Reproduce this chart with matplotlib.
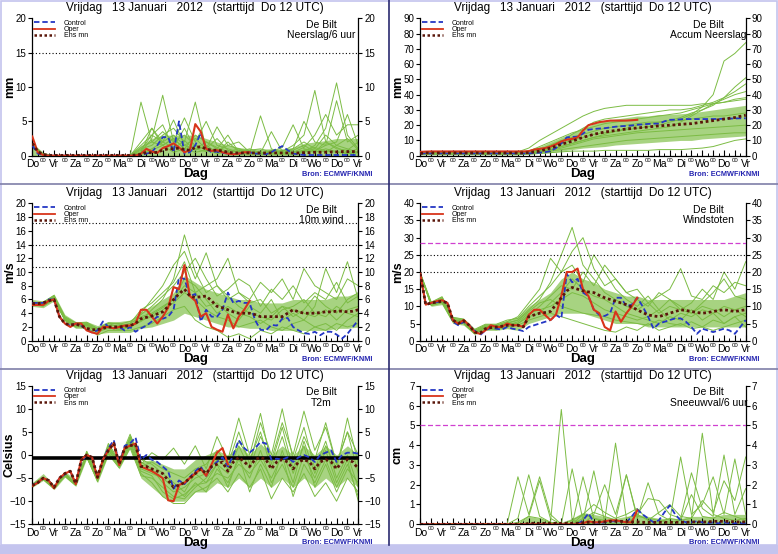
import numpy as np
import matplotlib
matplotlib.use('Agg')
import matplotlib.pyplot as plt
from matplotlib.lines import Line2D
from matplotlib.patches import Rectangle

plt.rcParams['font.family'] = ['Liberation Sans', 'DejaVu Sans']

# ---------------- time axes / labels ----------------
T6 = np.arange(61) * 0.25     # 6-hourly, days since Do 12 UTC
T12 = np.arange(31) * 0.5     # 12-hourly (ensemble members)
DAYS = ['Do', 'Vr', 'Za', 'Zo', 'Ma', 'Di', 'Wo', 'Do', 'Vr', 'Za', 'Zo', 'Ma', 'Di', 'Wo', 'Do', 'Vr']
TITLE = 'Vrijdag   13 Januari   2012   (starttijd  Do 12 UTC)'

# ---------------- Panel 1: Neerslag/6 uur (mm) ----------------
P1_CTRL = [1.5,0.3,0.1,0,0,0,0,0,0,0, 0,0,0,0,0,0,0,0,0,0,
           0.1,0.3,0.5,1.5,2.7,2.7,0.5,5.0,0.3,0.5, 1.5,3.3,1.0,0.5,0.6,0.4,0.3,0.2,0.3,0.4,
           0.5,0.3,0.3,0.2,0.5,1.0,1.4,0.8,0.3,0.2, 0.1,0.1,0.1,0.1,0.1,0.1,0.1,0.1,0.1,0.1,0.1]
P1_OPER = [2.8,0.5,0.1,0,0,0,0,0,0,0, 0,0,0,0,0,0,0,0,0,0,
           0.3,1.0,0.6,0.4,1.1,1.4,1.8,1.2,0.5,0.8, 4.6,3.5,1.0,0.7,0.8,0.5,0.3,0.2,0.3,0.5, 0.5]
P1_MEAN = [1.8,0.6,0.2,0.05,0.05,0.05,0.05,0.05,0.05,0.05, 0.05,0.05,0.05,0.05,0.05,0.05,0.05,0.05,0.05,0.1,
           0.2,0.5,0.4,0.5,0.8,1.0,1.0,1.1,0.9,0.8, 1.2,1.3,1.0,0.8,0.8,0.7,0.5,0.4,0.4,0.4,
           0.4,0.4,0.4,0.4,0.4,0.4,0.4,0.4,0.4,0.4, 0.45,0.45,0.5,0.5,0.5,0.55,0.55,0.6,0.6,0.6,0.6]
P1_LO = [0,0,0,0,0,0,0,0,0,0, 0,0,0,0,0,0,0,0,0,0, 0,0,0,0,0,0,0,0,0,0,0]
P1_HI = [1.8,0.5,0.1,0.1,0.1,0.1,0.1,0.1,0.1,0.1, 1.5,2.5,3.0,3.0,3.0,3.0,2.5,2.0,1.5,1.2,
         1.0,1.0,1.0,1.0,1.2,1.8,2.0,2.2,2.5,2.5,2.5]
P1_MEMBERS = [
    [1.5,0.2,0,0,0,0,0,0,0,0, 7.8,2.0,1.5,0.5,1.0,0.5,0.8,0.3,0.5,0.2, 0.4,0.2,0.3,0.5,0.2,0.8,0.5,1.0,0.6,0.4,0.5],
    [1.2,0.1,0,0,0,0,0,0,0,0, 0.5,2.5,8.8,2.0,3.0,1.5,1.0,0.6,0.3,0.8, 0.4,0.3,0.2,0.4,0.8,1.5,0.6,2.0,1.2,0.5,1.0],
    [1.6,0.1,0,0,0,0,0,0,0,0, 1.0,1.5,3.0,4.0,2.0,7.8,1.0,2.5,0.8,0.5, 0.3,5.8,1.0,0.4,0.5,0.8,1.2,0.7,0.5,0.3,0.4],
    [1.4,0.2,0,0,0,0,0,0,0,0, 0.3,1.0,2.0,1.2,4.0,1.0,0.6,1.0,0.4,0.3, 0.2,0.5,0.3,0.2,0.4,0.6,1.5,4.0,10.6,3.0,1.0],
    [1.3,0.1,0,0,0,0,0,0,0,0, 2.0,4.0,1.5,2.5,1.0,3.0,2.0,1.2,0.6,1.0, 0.5,0.3,0.8,0.6,1.5,3.0,9.5,2.0,1.0,0.8,2.0],
    [1.7,0.2,0,0,0,0,0,0,0,0, 0.8,3.0,4.5,1.0,2.2,0.8,1.5,0.5,2.0,0.6, 1.0,0.4,0.6,1.2,4.5,1.0,0.7,1.5,2.0,6.0,1.5],
    [1.5,0.1,0,0,0,0,0,0,0,0, 1.2,2.0,3.5,2.0,5.5,2.0,5.0,1.5,1.0,0.5, 0.8,1.0,0.5,0.3,0.2,0.5,1.0,0.5,1.5,1.0,0.5],
    [1.4,0.2,0,0,0,0,0,0,0,0, 0.5,4.0,2.0,3.0,1.5,2.5,1.0,4.2,1.5,1.0, 0.6,0.5,0.4,0.3,1.0,2.0,1.0,3.0,1.5,2.5,0.8],
    [1.6,0.1,0,0,0,0,0,0,0,0, 0.2,0.8,1.5,2.5,1.0,1.5,0.8,0.6,1.5,2.0, 0.5,0.4,3.5,0.6,1.0,5.0,2.0,1.5,8.0,2.0,3.0],
    [1.5,0.2,0,0,0,0,0,0,0,0, 1.5,3.0,2.0,5.2,1.5,1.0,2.0,1.0,3.0,0.5, 0.3,0.2,0.4,0.8,0.5,1.2,3.0,6.0,3.0,4.5,4.5],
]

# ---------------- Panel 2: Accum Neerslag (mm) ----------------
P2_CTRL = [1.5,1.5,1.5,1.5,1.5,1.5,1.5,1.5,1.5,1.5, 1.5,1.5,1.5,1.5,1.5,1.5,1.5,1.5,1.5,1.5,
           1.5,1.7,2.0,2.3,3.0,5.0,8.0,12.0,12.3,12.5, 14.5,17.0,17.5,17.8,18.0,18.5,19.0,19.3,19.5,19.8,
           20.3,20.5,20.8,21.0,21.0,22.5,23.5,23.6,23.8,24.0, 24.0,24.0,24.0,24.0,24.0,24.1,24.2,24.3,24.4,24.5,24.5]
P2_OPER = [2.5,2.7,2.8,2.8,2.8,2.8,2.8,2.8,2.8,2.8, 2.8,2.8,2.8,2.8,2.8,2.8,2.8,2.8,2.8,2.8,
           3.0,4.0,4.5,5.0,6.0,7.5,9.3,10.5,11.0,12.0, 16.5,20.0,21.0,22.0,22.5,23.0,23.0,23.0,23.0,23.2, 23.5]
P2_MEAN = [1.5,1.8,1.8,1.8,1.8,1.8,1.8,1.8,1.8,1.8, 1.8,1.8,1.8,1.8,1.8,1.8,1.8,1.8,1.8,1.8,
           2.0,2.5,3.0,4.0,5.0,6.2,7.5,8.5,9.5,10.8, 12.0,13.0,14.0,14.8,15.5,16.0,16.5,17.0,17.5,17.8,
           18.2,18.5,18.8,19.2,19.5,19.8,20.0,20.2,20.5,20.8, 21.0,21.5,22.0,22.5,23.0,23.5,24.0,24.5,25.0,25.8,26.5]
P2_LO = [0.5,0.5,0.5,0.5,0.5,0.5,0.5,0.5,0.5,0.5, 1,1.5,2,3,4,5,5.5,6,7,7.5,
         8,8.5,9,9.5,10,10,11,11.5,12,12.5,13]
P2_HI = [2.5,2.5,2.5,2.5,2.5,2.5,2.5,2.5,2.5,2.5, 4,6,9,12,15,18,21,23,24,25,
         26,26,27,27,27.5,28,29,30,31,32,33]
P2_MEMBERS = [
    [2,2,2,2,2,2,2,2,2,2, 3,4,6,8,10,12,14,15,16,17, 18,19,20,22,24,27,32,40,62,67,74],
    [2,2,2,2,2,2,2,2,2,2, 2.5,3,5,9,14,18,22,24,25,26, 27,28,29,30,30,31,33,35,38,45,51],
    [1.5,1.5,1.5,1.5,1.5,1.5,1.5,1.5,1.5,1.5, 2,3,4,6,8,10,12,14,16,18, 20,21,22,23,25,28,30,33,38,42,47],
    [2.5,2.5,2.5,2.5,2.5,2.5,2.5,2.5,2.5,2.5, 5,10,14,18,22,26,29,31,32,33, 33,33,33,33,33,33,34,34,35,36,37],
    [1,1,1,1,1,1,1,1,1,1, 1,1.5,2,2.5,3,3,3,3.5,3.5,3.5, 3.5,3.5,4,4,4,4.5,5,6,8,10,11],
    [2,2,2,2,2,2,2,2,2,2, 3,6,9,12,15,17,19,21,22,23, 24,25,26,27,28,30,32,34,35,37,38],
    [1.5,1.5,1.5,1.5,1.5,1.5,1.5,1.5,1.5,1.5, 2,2.5,3.5,5,7,9,11,12,13,14, 15,15.5,16,16.5,17,17.5,18,18.5,19,19.5,20],
    [1,1,1,1,1,1,1,1,1,1, 1.5,2,3,4,5,6,7,8,9,10, 10.5,11,11.5,12,12.5,13,13.5,14,14.5,15,15],
    [2,2,2,2,2,2,2,2,2,2, 2.5,4,7,10,12,14,16,18,19,20, 21,22,22,23,23,24,25,26,26,27,28],
    [2,2,2,2,2,2,2,2,2,2, 2.2,2.5,4,6,8,10,12,13,14,15, 16,17,18,19,22,26,30,34,37,40,42],
]

# ---------------- Panel 3: 10m wind (m/s) ----------------
P3_CTRL = [5.5,5.5,5.5,6.0,6.0,3.5,2.5,2.2,2.5,2.2, 1.6,1.2,1.5,2.8,2.0,1.8,2.0,1.5,2.0,1.3,
           1.8,2.2,2.8,3.5,3.2,3.5,4.5,9.2,9.0,6.5, 6.8,2.8,4.5,3.5,3.5,4.5,7.0,5.5,5.8,5.5,
           5.5,3.0,1.6,1.5,2.3,2.2,3.2,3.3,2.0,1.5, 1.1,1.0,1.3,0.8,1.3,1.3,0.9,0.3,1.0,2.0,3.0]
P3_OPER = [5.2,5.2,5.2,5.8,6.0,3.5,2.5,2.0,2.5,2.5, 1.5,1.2,1.0,2.0,2.0,1.8,2.0,2.2,2.2,2.5,
           4.5,4.5,3.5,2.5,3.5,4.8,7.8,7.5,11.0,6.5, 5.8,3.5,4.0,2.0,1.6,1.3,3.8,1.8,3.5,4.5, 5.8]
P3_MEAN = [5.4,5.4,5.5,5.8,6.0,3.5,2.5,2.3,2.4,2.2, 1.8,1.6,1.6,1.8,2.0,2.0,2.0,2.1,2.2,2.5,
           3.2,3.4,3.6,3.9,4.2,5.0,6.0,6.8,7.5,6.5, 6.3,6.4,6.5,5.8,5.0,4.8,4.5,4.2,4.0,4.0,
           4.0,3.8,3.5,3.5,3.5,3.5,3.5,4.0,4.5,4.2, 4.0,4.0,4.0,4.1,4.2,4.2,4.3,4.3,4.2,4.3,4.5]
P3_LO = [5.0,4.8,5.8,2.8,1.8,1.8,1.0,1.2,1.2,1.2, 1.8,2.0,2.5,3.0,4.0,3.5,3.0,2.5,2.0,2.0,
         1.8,1.8,1.5,1.5,1.5,1.5,1.5,1.5,1.8,1.8,2.0]
P3_HI = [6.0,5.8,6.8,3.8,2.8,2.8,2.2,2.8,2.8,3.0, 4.2,5.0,6.0,7.0,9.5,8.5,7.5,7.0,6.5,6.0,
         6.0,5.5,5.5,5.5,6.0,6.0,6.0,6.0,6.5,6.5,7.0]
P3_MEMBERS = [
    [5.5,5.3,6.3,3.3,2.3,2.5,1.5,2.0,1.8,2.2, 3.0,4.5,6.0,9.0,15.4,10.0,7.0,8.0,6.5,5.0, 4.0,3.5,3.0,4.5,5.0,6.0,4.0,3.5,5.0,4.0,3.5],
    [5.6,5.5,6.5,3.0,2.0,2.3,1.2,2.5,2.5,1.8, 4.0,6.0,8.0,11.0,13.0,9.0,12.8,8.0,6.0,7.0, 5.5,6.0,4.0,5.0,3.5,4.5,6.5,5.0,4.0,6.0,7.0],
    [5.3,5.0,6.0,3.0,2.0,2.0,0.8,1.5,1.5,1.5, 2.0,2.5,3.5,4.5,5.0,3.0,2.0,1.5,0.5,1.0, 0.3,1.5,1.0,2.0,1.5,1.0,2.0,1.5,2.5,2.0,2.5],
    [5.2,5.6,6.6,3.5,2.6,2.7,1.8,2.5,2.0,2.5, 4.5,5.5,7.0,8.5,11.5,7.0,8.0,9.0,12.0,7.0, 6.0,8.5,7.0,9.0,6.0,10.5,8.0,7.0,6.0,9.0,8.0],
    [5.5,5.6,6.2,3.2,2.2,2.4,1.4,2.2,2.2,2.5, 3.5,4.0,5.0,6.0,8.0,7.0,5.0,5.5,4.0,3.0, 5.0,4.0,6.0,3.0,4.0,3.0,5.0,10.5,7.0,11.5,6.0],
    [5.4,5.2,6.0,3.0,2.2,2.4,1.6,2.0,1.6,2.0, 3.0,3.5,4.5,5.5,7.0,6.0,4.5,3.5,3.0,2.0, 2.5,3.0,2.0,1.5,2.5,3.0,2.0,2.5,1.5,3.0,4.0],
    [5.6,5.4,6.4,3.4,2.5,2.6,1.7,2.6,2.4,2.8, 3.8,5.0,6.5,8.0,10.0,12.0,9.0,6.5,7.5,9.0, 8.0,5.0,7.5,6.0,8.0,5.5,7.0,6.0,8.5,5.5,6.5],
    [5.3,5.4,6.1,3.1,2.1,2.2,1.3,1.8,1.9,2.0, 2.8,3.8,4.8,6.0,9.0,8.0,6.0,4.0,5.0,4.0, 3.5,2.5,3.5,5.0,4.5,4.0,3.5,4.5,3.0,4.5,5.0],
]

# ---------------- Panel 4: Windstoten (m/s) ----------------
P4_CTRL = [19.5,10.5,11.0,11.2,11.5,11.0,5.5,4.5,5.5,4.5, 3.0,1.6,3.0,3.8,3.5,3.2,4.0,3.5,3.2,2.8,
           4.0,4.5,5.0,5.5,6.0,7.5,6.5,19.5,17.0,18.0, 14.0,13.0,9.0,7.5,7.2,8.0,12.5,12.5,10.0,10.5,
           12.5,10.0,7.0,3.5,5.0,5.5,6.0,6.5,6.5,5.5, 4.0,2.0,3.5,3.0,2.5,3.0,3.5,3.0,2.0,4.0,6.0]
P4_OPER = [19.5,10.5,11.0,11.5,11.8,11.0,6.0,5.0,6.0,4.5, 2.5,2.0,3.0,4.5,4.0,4.0,5.0,4.5,4.5,4.0,
           7.5,9.0,9.0,7.5,6.0,7.5,13.0,20.0,20.0,21.0, 15.0,13.0,9.0,8.0,4.0,3.0,8.5,5.5,8.0,10.0, 12.5]
P4_MEAN = [19.5,10.5,11.0,11.2,11.5,11.0,6.0,5.0,5.8,4.5, 2.5,2.2,3.5,3.8,4.0,4.2,4.5,4.5,4.5,4.0,
           7.0,7.5,8.0,8.2,8.5,10.5,12.5,14.5,15.5,15.0, 14.5,14.2,14.0,13.2,12.5,12.0,11.5,11.0,10.5,9.8,
           9.0,8.2,7.5,7.2,7.0,7.5,8.0,8.5,9.0,8.8, 8.5,8.2,8.0,8.2,8.5,8.8,9.0,8.8,8.5,8.8,9.0]
P4_LO = [19,10,10.5,5,4.5,1.8,3,3,3.5,3, 5,6,7,8,8,8,7,6,5,5, 5,4,4,4,4,4,4,4,4,4,4]
P4_HI = [20,11.5,13,7,6.5,3.5,5,5,6,7, 10,12,14,18,20,18,17,15,14,13, 13,12,12,12,12,12,12,12,12,13,14]
P4_MEMBERS = [
    [19.5,11,12,6,5.5,2.5,4,4,5,6, 9,12,17,25,33,22,18,14,12,10, 9,11,8,10,9,8,10,9,7,9,10],
    [19.5,10.8,12.5,6.5,6,3,4.5,4.5,5.5,7, 11,15,24,20,22,17,25,20,15,12, 10,13,9,12,10,8,11,14,18,13,12],
    [19.5,10.2,11,5.5,5,2,3.5,3.2,4,4.5, 6,7,8,7,6,5,4,3,2.5,4, 3,5,3,4,5,3.5,4,3,4,5,6],
    [19.5,11.2,12.8,6.8,6.3,3.3,4.8,4.8,6,6.5, 10,13,16,20,26,30,21,16,18,14, 15,11,13,15,21,13,12,16,14,17,16],
    [19.5,10.5,11.5,5.8,5.2,2.3,3.8,3.8,4.5,5.5, 8,9,10,12,14,13,11,9,8,7, 6,7,9,6,8,7,9,8,10,9,7],
    [19.5,10.6,11.8,6,5.8,2.8,4.2,4,4.8,5, 7,8,11,14,18,15,13,12,10,8, 7,6,5,7,6,9,6,8,5,7,8],
    [19.5,10.4,11.3,5.6,5,2.2,3.6,3.6,4.2,5, 7.5,10,13,16,15,20,16,22,18,14, 12,10,14,12,9,11,15,12,20,15,23],
    [19.5,10.9,12.2,6.2,5.5,2.6,4,4.2,5.2,6, 8.5,11,12,10,9,8,7.5,7,6,5.5, 5,4.5,6,5,4.5,5.5,4,6,5,7,4],
]

# ---------------- Panel 5: T2m (Celsius) ----------------
P5_CTRL = [-6.5,-6.0,-5.0,-5.5,-7.0,-5.0,-4.2,-3.5,-6.3,-1.5, 0.0,-0.5,-5.0,-1.0,1.5,3.2,-2.0,2.0,2.5,3.8,
           -1.0,0.0,-1.0,-1.5,-2.5,-3.5,-7.3,-5.5,-6.3,-4.8, -3.5,-2.5,-4.5,-2.5,-1.5,-0.5,-2.5,0.0,3.2,1.5,
           0.5,1.5,2.8,2.5,-1.0,-0.8,-1.0,-0.5,-1.5,-0.5, 0.0,-0.5,-1.5,0.0,0.5,1.0,-1.5,0.0,0.5,0.5,0.3]
P5_OPER = [-6.7,-6.0,-5.0,-5.5,-7.2,-5.0,-4.0,-3.5,-6.3,-1.0, 0.0,-0.5,-5.0,-1.0,1.0,2.5,-2.2,1.5,2.0,2.5,
           -2.5,-3.0,-3.5,-4.2,-5.0,-9.8,-10.0,-6.5,-6.0,-5.0, -4.0,-3.0,-4.5,-2.0,0.5,1.5,-2.0]
P5_MEAN = [-6.6,-6.0,-5.0,-5.5,-7.0,-5.0,-4.0,-3.5,-6.2,-1.2, 0.0,-0.5,-4.8,-1.0,1.0,2.5,-2.0,1.5,2.0,2.3,
           -2.5,-2.5,-3.0,-3.5,-4.0,-5.5,-7.0,-6.5,-6.0,-5.0, -4.0,-3.0,-4.0,-2.5,-2.0,-1.5,-3.5,-1.5,-0.5,-1.5,
           -2.5,-1.0,-0.5,-1.0,-3.0,-1.5,-1.0,-1.5,-3.0,-1.5, -1.0,-1.5,-3.0,-1.5,-1.0,-1.5,-3.0,-1.5,-1.0,-1.5,-3.0]
P5_LO = [-7,-5.5,-7.5,-4.8,-6.8,-0.8,-6,0,-3,1.5, -5,-7,-9,-10,-10,-8,-8,-6,-7,-5,
         -7,-5,-7,-5,-7,-5,-7,-5,-7,-5,-7]
P5_HI = [-6,-4,-6.5,-3.5,-5.5,1,-4,2.5,-1.5,4.5, -1.5,-1,-2,-3,-3,-1,0,1,0,2,
         0,2.5,0,2,0,2,0,2,0,2,0]
P5_ZERO = -0.7
P5_MEMBERS = [
    [-6.3,-4.8,-6.8,-4.0,-6.0,0.5,-4.5,2.0,-1.5,3.5, -1.0,-2.0,-4.0,-6.0,-8.0,-4.0,-6.0,-2.0,-4.0,2.0, -3.0,4.0,-1.0,7.0,0.0,9.5,1.0,6.0,-2.0,5.0,0.0],
    [-6.8,-5.2,-7.2,-4.5,-6.5,-0.5,-5.5,0.5,-2.5,2.0, -4.0,-6.0,-9.0,-10.5,-10.5,-8.0,-7.0,-5.0,-8.0,-4.0, -7.0,-3.0,-9.5,-5.0,-8.0,-4.0,-9.0,-6.0,-10.0,-5.0,-8.0],
    [-6.5,-5.0,-7.0,-4.2,-6.3,0.2,-4.8,1.5,-1.8,4.0, -2.0,0.5,-1.0,1.5,-2.0,2.0,-3.0,4.0,-1.0,8.0, 0.0,9.0,-2.0,6.0,-3.0,4.0,-1.0,7.0,-2.0,5.0,-4.0],
    [-6.6,-5.1,-7.1,-4.3,-6.4,0.0,-5.2,1.0,-2.2,3.0, -3.0,-4.0,-5.0,-7.0,-9.0,-6.0,-8.0,-3.0,-6.0,-1.0, -5.0,1.0,-6.0,-2.0,-7.0,0.0,-5.0,1.0,-6.0,-1.0,-10.0],
    [-6.4,-4.9,-6.9,-4.1,-6.2,0.8,-4.3,2.5,-1.2,4.5, -1.5,-3.0,-6.0,-8.0,-7.0,-5.0,-4.0,-1.0,-3.0,3.0, -1.0,5.0,-3.0,4.0,-4.0,2.0,-7.0,-2.0,-8.0,-3.0,-6.0],
    [-6.7,-5.3,-7.3,-4.6,-6.6,-0.3,-5.8,0.2,-2.8,1.5, -4.5,-5.0,-7.0,-9.0,-9.5,-7.0,-5.0,-2.0,-7.0,0.0, -8.0,-2.0,-7.0,1.0,-6.0,3.0,-4.0,2.0,-3.0,8.0,-2.0],
    [-6.5,-5.0,-7.0,-4.2,-6.3,0.3,-4.7,1.8,-1.7,3.8, -2.5,-1.5,-3.0,-4.0,-5.0,-3.0,-2.0,1.0,-2.0,5.0, -2.0,7.0,0.0,10.0,-1.0,6.0,-3.0,3.0,-5.0,0.0,-7.0],
    [-6.6,-5.0,-7.1,-4.4,-6.4,-0.2,-5.3,1.2,-2.3,2.5, -3.5,-4.5,-8.0,-9.5,-8.5,-6.5,-6.0,-4.0,-5.0,-2.0, -4.0,-1.0,-5.0,0.0,-9.0,-2.0,-6.0,-1.0,-7.0,-2.0,-9.0],
]

# ---------------- Panel 6: Sneeuwval/6 uur (cm) ----------------
P6_CTRL = [0,0,0,0,0,0,0,0,0,0, 0,0,0,0,0,0,0,0,0,0, 0,0,0,0,0,0,0,0,0,0,
           0.2,0.55,0.1,0.05,0.1,0.15,0.15,0.15,0.1,0.4, 0.75,0.5,0.3,0.1,0.2,0.6,0.95,0.5,0.2,0.1,
           0.1,0.15,0.1,0.05,0.1,0.05,0.1,0.05,0.05,0.05,0.05]
P6_OPER = [0,0,0,0,0,0,0,0,0,0, 0,0,0,0,0,0,0,0,0,0, 0,0,0,0,0,0,0,0,0,0,
           0.05,0.15,0.1,0.1,0.15,0.2,0.2,0.15,0.1,0.1, 0.7]
P6_MEAN = [0,0,0,0,0,0,0,0,0,0, 0,0,0,0,0,0,0,0,0,0, 0.05,0.05,0.05,0.05,0.05,0.05,0.05,0.05,0.05,0.05,
           0.08,0.1,0.1,0.12,0.12,0.15,0.15,0.15,0.15,0.12, 0.12,0.1,0.1,0.1,0.1,0.1,0.1,0.1,0.1,0.1,
           0.12,0.12,0.12,0.12,0.15,0.15,0.15,0.15,0.12,0.12,0.12]
P6_LO = [0,0,0,0,0,0,0,0,0,0, 0,0,0,0,0,0,0,0,0,0, 0,0,0,0,0,0,0,0,0,0,0]
P6_HI = [0.02,0.02,0.02,0.02,0.02,0.02,0.02,0.02,0.02,0.02, 0.4,0.3,0.1,0.1,0.3,0.6,0.5,0.4,0.3,0.4,
         0.5,0.4,0.3,0.3,0.3,0.4,0.4,0.4,0.5,0.5,0.5]
P6_MEMBERS = [
    [0,0,0,0,0,0,0,0,0,0, 0,0,0.1,5.8,0.2,0.1,0,0,0,0, 0,0,0,0,0,0,0,0,0,0,0],
    [0,0,0,0,0,0,0,0,0,2.4, 0.5,2.4,0.5,0,0,2.4,0.3,0.1,0,0, 0,0,0,0,0,0,0,0,0,0,0],
    [0,0,0,0,0,0,0,0,0,0.3, 2.5,0.4,0.1,0,2.8,0.2,2.7,0.1,0,0, 0,0,0,0,0,0,0,0,0,0,0],
    [0,0,0,0,0,0,0,0,0,0, 0.4,2.2,0.3,0,0.2,0.5,0.3,0.2,4.1,0.3, 0.5,0.2,0.1,0.3,0.2,0.3,4.6,0.5,0.3,0.2,0.3],
    [0,0,0,0,0,0,0,0,0,0, 0,0,0,0,0,0,0.5,2.0,0.5,2.5, 0.3,2.1,0.5,0.2,3.4,0.5,1.0,2.4,0.5,3.3,0.5],
    [0,0,0,0,0,0,0,0,0,0, 0,0,0,0,0,0,0,0,0,0, 0.5,1.3,1.2,0.5,0.3,2.6,0.8,0.4,3.5,0.5,1.8],
    [0,0,0,0,0,0,0,0,0,0, 0,0,0,0,0,0.5,1.0,0.6,0.3,0.5, 0.8,0.2,0.6,1.0,0.4,0.3,1.2,0.6,2.2,1.2,3.4],
    [0,0,0,0,0,0,0,0,0,0.1, 0.4,0.3,0.1,0,0,0.3,0.6,0.4,0.2,2.5, 0.4,0.3,0.2,0.1,0.2,1.5,0.4,0.3,0.6,0.4,0.2],
]

# ---------------- styling ----------------
W, H = 778, 554
GREEN = '#7cbc44'
GREEN_FILL = '#86c250'
C_CTRL = '#2437c4'
C_OPER = '#d8341a'
C_MEAN = '#5a160a'

fig = plt.figure(figsize=(W / 100, H / 100), dpi=100)
fig.patch.set_facecolor('white')

ROWS = [(18.3, 155.7), (203.3, 340.7), (385.7, 524.3)]
COLS = [(32.3, 358.3), (420.3, 745.7)]


def make_axes(col, row):
    x0, x1 = COLS[col]
    y0, y1 = ROWS[row]
    return fig.add_axes([x0 / W, 1 - y1 / H, (x1 - x0) / W, (y1 - y0) / H])


def draw_panel(col, row, members, lo, hi, ctrl, oper, mean, ylim, yticks,
               ylabel, name, dotted=(), magenta=(), thick=None):
    ax = make_axes(col, row)
    x0, x1 = COLS[col]
    y0, y1 = ROWS[row]
    ax.fill_between(T12, lo, hi, color=GREEN_FILL, lw=0, alpha=0.72, zorder=1)
    for m in members:
        ax.plot(T12[:len(m)], m, color=GREEN, lw=0.7, zorder=2)
    for v in dotted:
        ax.axhline(v, color='black', ls=(0, (1, 2)), lw=0.8, zorder=3)
    for v in magenta:
        ax.axhline(v, color='#d040d0', ls=(0, (4, 2)), lw=0.9, zorder=3)
    if thick is not None:
        ax.axhline(thick, color='black', lw=2.6, zorder=3)
    ax.plot(T6[:len(ctrl)], ctrl, color=C_CTRL, ls=(0, (3, 1.6)), lw=1.3, zorder=4)
    ax.plot(T6[:len(oper)], oper, color=C_OPER, lw=1.5, zorder=5)
    ax.plot(T6[:len(mean)], mean, color=C_MEAN, ls=(0, (1, 1)), lw=2.0, zorder=6)

    ax.set_xlim(0, 15)
    ax.set_ylim(*ylim)
    ax.set_yticks(yticks)
    ax.tick_params(axis='y', which='both', direction='out', length=3, width=0.8,
                   labelsize=7, pad=1.2, left=True, right=True, labelleft=True, labelright=True)
    ax.set_xticks(np.arange(0, 15.01, 0.5))
    ax.set_xticks(np.arange(0, 15.01, 0.25), minor=True)
    ax.tick_params(axis='x', which='major', direction='in', length=4, width=0.8, labelbottom=False)
    ax.tick_params(axis='x', which='minor', direction='in', length=2.5, width=0.7)
    ax.spines['top'].set_visible(False)
    for s in ('left', 'right', 'bottom'):
        ax.spines[s].set_linewidth(0.9)
    ax.set_facecolor('none')

    for d, dn in enumerate(DAYS):
        ax.annotate(dn, xy=(d, 0), xycoords=('data', 'axes fraction'), xytext=(0, -2.5),
                    textcoords='offset points', ha='center', va='top', fontsize=7.5)
    for d in range(15):
        ax.annotate('00', xy=(d + 0.5, 0), xycoords=('data', 'axes fraction'), xytext=(0, -1.5),
                    textcoords='offset points', ha='center', va='top', fontsize=4.3)

    handles = [Line2D([], [], color=C_CTRL, ls=(0, (3, 1.6)), lw=1.3),
               Line2D([], [], color=C_OPER, lw=1.3),
               Line2D([], [], color=C_MEAN, ls=(0, (1, 1)), lw=1.8)]
    ax.legend(handles, ['Control', 'Oper', 'Ens mn'], loc='upper left', fontsize=5,
              frameon=False, handlelength=3.0, handletextpad=1.3, labelspacing=-0.1,
              borderaxespad=0.1, borderpad=0.1)

    xc = (x0 + x1) / 2
    fig.text(xc / W, 1 - (y0 - 10.0) / H, TITLE, ha='center', va='center', fontsize=8.5)
    fig.text((x1 - 37) / W, 1 - (y0 + 6.5) / H, 'De Bilt', ha='center', va='center', fontsize=7.5)
    fig.text((x1 - 37) / W, 1 - (y0 + 17) / H, name, ha='center', va='center', fontsize=7.5)
    fig.text((x0 - 22.5) / W, 1 - ((y0 + y1) / 2) / H, ylabel, rotation=90, ha='center',
             va='center', fontsize=9, fontweight='bold')
    fig.text(xc / W, 1 - (y1 + 18.5) / H, 'Dag', ha='center', va='center', fontsize=9.5,
             fontweight='bold')
    fig.text((x1 + 14) / W, 1 - (y1 + 18.5) / H, 'Bron: ECMWF/KNMI', ha='right', va='center',
             fontsize=5.3, fontweight='bold', color='#2323b0')
    return ax


draw_panel(0, 0, P1_MEMBERS, P1_LO, P1_HI, P1_CTRL, P1_OPER, P1_MEAN, (0, 20),
           [0, 5, 10, 15, 20], 'mm', 'Neerslag/6 uur', dotted=(15,))
draw_panel(1, 0, P2_MEMBERS, P2_LO, P2_HI, P2_CTRL, P2_OPER, P2_MEAN, (0, 90),
           list(range(0, 91, 10)), 'mm', 'Accum Neerslag')
draw_panel(0, 1, P3_MEMBERS, P3_LO, P3_HI, P3_CTRL, P3_OPER, P3_MEAN, (0, 20),
           list(range(0, 21, 2)), 'm/s', '10m wind', dotted=(10.8, 13.9, 17.2))
draw_panel(1, 1, P4_MEMBERS, P4_LO, P4_HI, P4_CTRL, P4_OPER, P4_MEAN, (0, 40),
           list(range(0, 41, 5)), 'm/s', 'Windstoten', dotted=(20, 25), magenta=(28.5,))
draw_panel(0, 2, P5_MEMBERS, P5_LO, P5_HI, P5_CTRL, P5_OPER, P5_MEAN, (-15, 15),
           list(range(-15, 16, 5)), 'Celsius', 'T2m', thick=P5_ZERO)
draw_panel(1, 2, P6_MEMBERS, P6_LO, P6_HI, P6_CTRL, P6_OPER, P6_MEAN, (0, 7),
           list(range(0, 8)), 'cm', 'Sneeuwval/6 uur', magenta=(5,))

# ---------------- frame lines ----------------
def hline(y, color, lw):
    fig.add_artist(Line2D([0, 1], [1 - y / H, 1 - y / H], color=color, lw=lw))

hline(183.5, '#7f7fa8', 1.2)
hline(368.5, '#7f7fa8', 1.2)
fig.add_artist(Line2D([388.5 / W, 388.5 / W], [1 - 545 / H, 1], color='#2a2a70', lw=1.2))
fig.add_artist(Rectangle((0, 0), 1, 9 / H, transform=fig.transFigure, color='#c4c4ee', lw=0))
fig.add_artist(Rectangle((0.5 / W, 9 / H), 1 - 1.5 / W, 1 - 9.5 / H, transform=fig.transFigure,
                         fill=False, edgecolor='#c4c4ee', lw=1.2))

fig.savefig('out.png', dpi=100, facecolor='white')
